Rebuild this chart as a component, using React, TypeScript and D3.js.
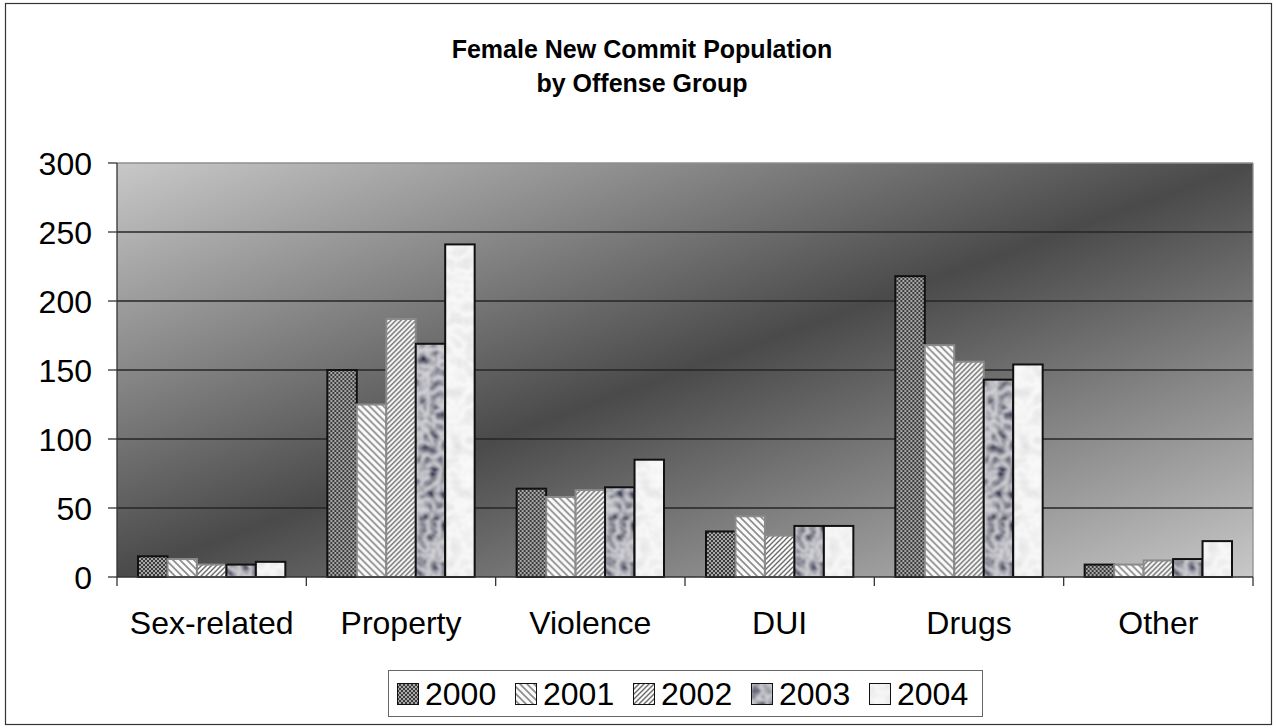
import React from 'react';
import * as d3 from 'd3';

const categories = ['Sex-related', 'Property', 'Violence', 'DUI', 'Drugs', 'Other'];
const years = ['2000', '2001', '2002', '2003', '2004'];
const values2000 = [15, 150, 64, 33, 218, 9];
const values2001 = [13, 125, 58, 44, 168, 9];
const values2002 = [9, 187, 63, 30, 156, 12];
const values2003 = [9, 169, 65, 37, 143, 13];
const values2004 = [11, 241, 85, 37, 154, 26];
const yTicks = [0, 50, 100, 150, 200, 250, 300];
const titleLines = ['Female New Commit Population', 'by Offense Group'];

const seriesValues = [values2000, values2001, values2002, values2003, values2004];
// fill pattern + outline per year, like the old Excel look
const fills = ['url(#p2000)', 'url(#p2001)', 'url(#p2002)', 'url(#p2003)', 'url(#p2004)'];
const strokes = ['#111', '#8a8a8a', '#8a8a8a', '#111', '#111'];

const W = 1276;
const H = 728;
const plot = { left: 117, right: 1253, top: 163, bottom: 577 };
const font = '"Liberation Sans", Arial, sans-serif';

const App: React.FC = () => {
  const x0 = d3.scaleBand<string>().domain(categories).range([plot.left, plot.right]);
  const bw = x0.bandwidth();
  const x1 = d3.scaleBand<string>().domain(years).range([21, bw - 21]);
  const y = d3.scaleLinear().domain([0, 300]).range([plot.bottom, plot.top]);
  const legendX = d3.scaleBand<string>().domain(years).range([397, 397 + 118 * years.length]);

  return (
    <svg width={W} height={H} style={{ position: 'absolute', left: 0, top: 0, background: '#fff' }}>
      <defs>
        <linearGradient id="bg" x1="0" y1="0" x2="1" y2="1">
          <stop offset="0" stopColor="#c8c8c8" />
          <stop offset="0.5" stopColor="#4a4a4a" />
          <stop offset="1" stopColor="#c8c8c8" />
        </linearGradient>
        <pattern id="p2000" width="4" height="4" patternUnits="userSpaceOnUse">
          <rect width="4" height="4" fill="#3c3c3c" />
          <rect width="2" height="2" fill="#a8a8a8" />
          <rect x="2" y="2" width="2" height="2" fill="#a8a8a8" />
        </pattern>
        <pattern id="p2001" width="7" height="7" patternUnits="userSpaceOnUse">
          <rect width="7" height="7" fill="#fafafa" />
          <path d="M-1,-1 L8,8 M-8,-1 L1,8 M6,-1 L15,8" stroke="#8c8c8c" strokeWidth="1.6" />
        </pattern>
        <pattern id="p2002" width="5" height="5" patternUnits="userSpaceOnUse">
          <rect width="5" height="5" fill="#fafafa" />
          <path d="M-1,6 L6,-1 M-6,6 L1,-1 M4,6 L11,-1" stroke="#6a6a6a" strokeWidth="1.4" />
        </pattern>
        <filter id="marbleDark" filterUnits="userSpaceOnUse" x="0" y="0" width={W} height={H}>
          <feTurbulence type="turbulence" baseFrequency="0.09" numOctaves="2" seed="3" />
          <feColorMatrix type="matrix" values="-1.1 0 0 0 0.7  -1.1 0 0 0 0.7  -1.05 0 0 0 0.73  0 0 0 0 1" />
          <feGaussianBlur stdDeviation="0.8" />
        </filter>
        <filter id="marbleLight" filterUnits="userSpaceOnUse" x="0" y="0" width={W} height={H}>
          <feTurbulence type="turbulence" baseFrequency="0.07" numOctaves="2" seed="7" />
          <feColorMatrix type="matrix" values="-0.3 0 0 0 0.96  -0.3 0 0 0 0.96  -0.3 0 0 0 0.96  0 0 0 0 1" />
          <feGaussianBlur stdDeviation="0.8" />
        </filter>
        <pattern id="p2003" width={W} height={H} patternUnits="userSpaceOnUse">
          <rect width={W} height={H} filter="url(#marbleDark)" />
        </pattern>
        <pattern id="p2004" width={W} height={H} patternUnits="userSpaceOnUse">
          <rect width={W} height={H} filter="url(#marbleLight)" />
        </pattern>
      </defs>

      {/* outer frame */}
      <rect x={5.5} y={3.5} width={1266} height={721} fill="#fff" stroke="#333" strokeWidth={1.2} />

      {/* title */}
      <g fontFamily={font} fontWeight="bold" fontSize={25} textAnchor="middle" fill="#000">
        {titleLines.map((t, i) => (
          <text key={t} x={642} y={58 + i * 34}>{t}</text>
        ))}
      </g>

      {/* plot area */}
      <rect x={plot.left} y={plot.top} width={plot.right - plot.left} height={plot.bottom - plot.top} fill="url(#bg)" />
      {yTicks.filter(v => v > 0 && v < 300).map(v => (
        <line key={v} x1={plot.left} x2={plot.right} y1={y(v)} y2={y(v)} stroke="#262626" strokeWidth={1.3} />
      ))}
      <line x1={plot.left} x2={plot.right} y1={plot.top} y2={plot.top} stroke="#8f8f8f" strokeWidth={1.3} />
      <line x1={plot.right} x2={plot.right} y1={plot.top} y2={plot.bottom} stroke="#8f8f8f" strokeWidth={1.3} />

      {/* bars */}
      {categories.map((c, ci) => (
        <g key={c} transform={`translate(${x0(c)},0)`}>
          {years.map((yr, si) => {
            const v = seriesValues[si][ci];
            return (
              <rect
                key={yr}
                x={x1(yr)}
                y={y(v)}
                width={x1.bandwidth()}
                height={y(0) - y(v)}
                fill={fills[si]}
                stroke={strokes[si]}
                strokeWidth={2}
              />
            );
          })}
        </g>
      ))}

      {/* axes */}
      <line x1={plot.left} x2={plot.left} y1={plot.top} y2={plot.bottom} stroke="#333" strokeWidth={1.3} />
      <line x1={plot.left} x2={plot.right} y1={plot.bottom} y2={plot.bottom} stroke="#333" strokeWidth={1.3} />
      <g fontFamily={font} fontSize={32} fill="#000">
        {yTicks.map(v => (
          <g key={v}>
            <line x1={plot.left - 9} x2={plot.left} y1={y(v)} y2={y(v)} stroke="#333" strokeWidth={1.3} />
            <text x={92} y={y(v) + 11.5} textAnchor="end">{v}</text>
          </g>
        ))}
        {categories.map(c => (
          <g key={c}>
            <line x1={x0(c)} x2={x0(c)} y1={plot.bottom} y2={plot.bottom + 9} stroke="#333" strokeWidth={1.3} />
            <text x={(x0(c) as number) + bw / 2} y={634} textAnchor="middle">{c}</text>
          </g>
        ))}
        <line x1={plot.right} x2={plot.right} y1={plot.bottom} y2={plot.bottom + 9} stroke="#333" strokeWidth={1.3} />
      </g>

      {/* legend */}
      <rect x={388.5} y={670.5} width={594} height={46} fill="#fff" stroke="#666" strokeWidth={1} />
      <g fontFamily={font} fontSize={32} fill="#000">
        {years.map((yr, si) => (
          <g key={yr} transform={`translate(${legendX(yr)},0)`}>
            <rect x={0.5} y={683.5} width={21} height={21} fill={fills[si]} stroke="#111" strokeWidth={1} />
            <text x={28} y={705}>{yr}</text>
          </g>
        ))}
      </g>
    </svg>
  );
};

export default App;
